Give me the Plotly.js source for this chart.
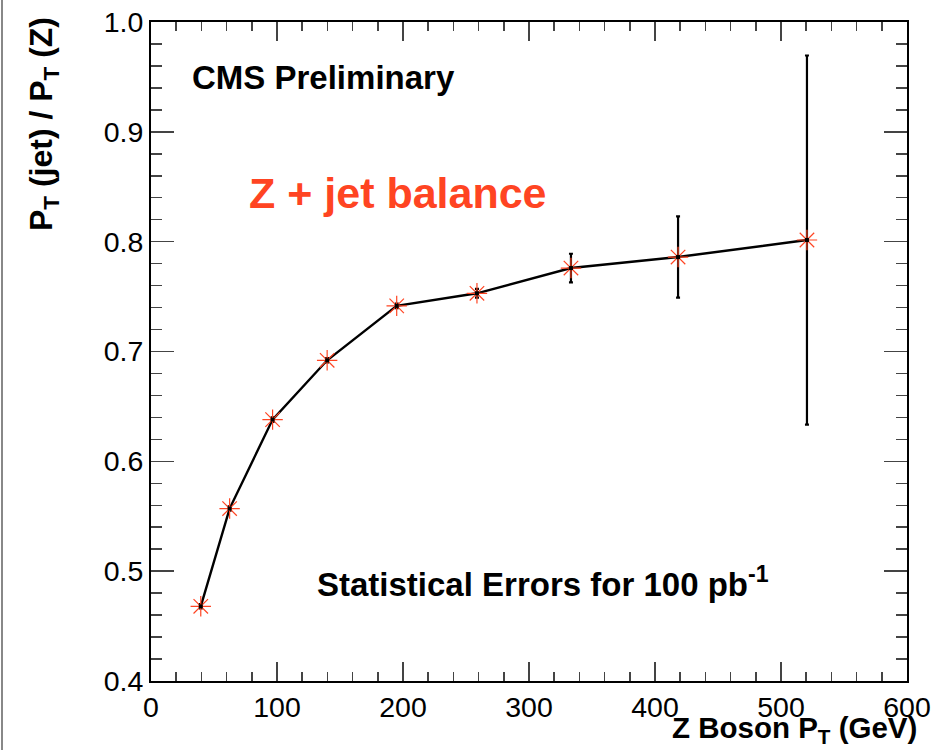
<!DOCTYPE html>
<html>
<head>
<meta charset="utf-8">
<script src="https://cdn.plot.ly/plotly-3.0.1.min.js"></script>
<style>html,body{margin:0;padding:0;background:#fff;}#chart{width:937px;height:750px;}</style>
</head>
<body>
<div id="chart"></div>
<script>
// Data
var zPt      = [39.5, 62.4, 96.5, 139.8, 195.0, 258.7, 333.3, 418.3, 520.6];
var balance  = [0.468, 0.557, 0.638, 0.692, 0.7415, 0.753, 0.776, 0.786, 0.8015];
var statErr  = [0.002, 0.002, 0.002, 0.002, 0.002, 0.004, 0.013, 0.037, 0.168];

var xTickVals = [0, 100, 200, 300, 400, 500, 600];
var xTickText = ['0', '100', '200', '300', '400', '500', '600'];
var yTickVals = [0.4, 0.5, 0.6, 0.7, 0.8, 0.9, 1.0];
var yTickText = ['0.4', '0.5', '0.6', '0.7', '0.8', '0.9', '1.0'];

var FONT = '"Liberation Sans", Arial, Helvetica, sans-serif';
var RED = '#ff4422';

var L = 151, R = 907, T = 22, B = 681;
function px(x) { return (x - L) / (R - L); }
function py(y) { return (B - y) / (B - T); }

var traces = [
  {
    x: zPt, y: balance, type: 'scatter', mode: 'lines',
    line: {color: '#000', width: 2.4},
    error_y: {type: 'data', array: statErr, visible: true, color: '#000', thickness: 2.2, width: 2},
    hoverinfo: 'skip', showlegend: false
  },
  {
    x: zPt, y: balance, type: 'scatter', mode: 'markers',
    marker: {symbol: 'asterisk-open', size: 17, color: RED, line: {color: RED, width: 1.2}},
    showlegend: false
  },
  {
    x: zPt, y: balance, type: 'scatter', mode: 'markers',
    marker: {symbol: 'square', size: 4, color: '#000', line: {width: 0}},
    showlegend: false
  }
];

var axisCommon = {
  showgrid: false, zeroline: false,
  showline: true, linecolor: '#000', linewidth: 2, mirror: 'allticks',
  ticks: 'inside', tickcolor: '#444', tickwidth: 1.5,
  tickfont: {family: FONT, size: 28.5, color: '#000'},
  tickmode: 'array'
};

var layout = {
  width: 937, height: 750,
  margin: {l: L, r: 937 - R, t: T, b: 750 - B},
  paper_bgcolor: '#fff', plot_bgcolor: '#fff',
  xaxis: Object.assign({}, axisCommon, {
    range: [0, 600], tickvals: xTickVals, ticktext: xTickText, ticklen: 19,
    minor: {dtick: 20, ticks: 'inside', ticklen: 9, tickcolor: '#444', tickwidth: 1.5, showgrid: false}
  }),
  yaxis: Object.assign({}, axisCommon, {
    range: [0.4, 1.0], tickvals: yTickVals, ticktext: yTickText, ticklen: 23,
    minor: {dtick: 0.02, ticks: 'inside', ticklen: 11, tickcolor: '#444', tickwidth: 1.5, showgrid: false}
  }),
  annotations: [
    {xref: 'paper', yref: 'paper', x: px(919), y: py(749.5), xanchor: 'right', yanchor: 'bottom',
     text: '<b>Z Boson P<sub>T</sub> (GeV)</b>', showarrow: false,
     font: {family: FONT, size: 29.5, color: '#000'}},
    {xref: 'paper', yref: 'paper', x: px(43), y: py(15), xanchor: 'center', yanchor: 'top', textangle: -90,
     text: '<b>P<sub>T</sub> (jet) / P<sub>T</sub> (Z)</b>', showarrow: false,
     font: {family: FONT, size: 32, color: '#000'}},
    {xref: 'paper', yref: 'paper', x: px(190), y: py(77), xanchor: 'left', yanchor: 'middle',
     text: '<b>CMS Preliminary</b>', showarrow: false,
     font: {family: FONT, size: 33, color: '#000'}},
    {xref: 'paper', yref: 'paper', x: px(247), y: py(193), xanchor: 'left', yanchor: 'middle',
     text: '<b>Z + jet balance</b>', showarrow: false,
     font: {family: FONT, size: 43, color: RED}},
    {xref: 'paper', yref: 'paper', x: px(315), y: py(582), xanchor: 'left', yanchor: 'middle',
     text: '<b>Statistical Errors for 100 pb<sup>-1</sup></b>', showarrow: false,
     font: {family: FONT, size: 33, color: '#000'}}
  ],
  shapes: [
    {type: 'line', xref: 'paper', yref: 'paper', x0: px(2), x1: px(2), y0: py(0), y1: py(750),
     line: {color: '#888', width: 2}}
  ]
};

Plotly.newPlot('chart', traces, layout, {staticPlot: true, displayModeBar: false});
</script>
</body>
</html>
